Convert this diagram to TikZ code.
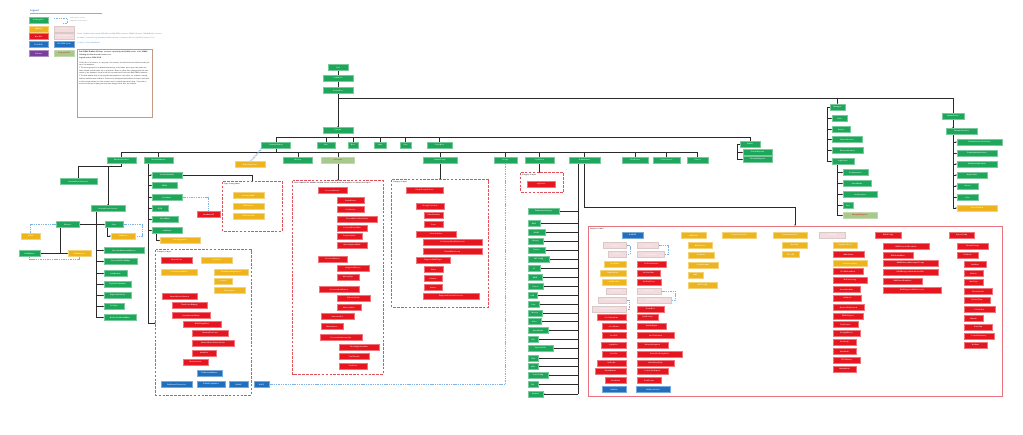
\documentclass[tikz,border=0pt]{standalone}
\usetikzlibrary{arrows.meta}
\definecolor{cg}{HTML}{1EA65A}
\definecolor{cy}{HTML}{EDB41E}
\definecolor{cr}{HTML}{E5161F}
\definecolor{cb}{HTML}{1F6FBE}
\definecolor{cp}{HTML}{7A3E9D}
\definecolor{ck}{HTML}{F2DCDD}
\definecolor{co}{HTML}{A8C98C}
\definecolor{cbox}{HTML}{E2505C}
\definecolor{cdash}{HTML}{7FB2E5}
\definecolor{cln}{HTML}{2A2A2A}
\definecolor{cbrown}{HTML}{C39A85}
\definecolor{ctxt}{HTML}{3B78C4}
\pgfdeclarelayer{bg}
\pgfsetlayers{bg,main}
\tikzset{
 bx/.style={rectangle, minimum height=5.8pt, inner sep=0.2pt, line width=0.3pt, font=\fontsize{1.75}{2}\selectfont\sffamily\bfseries, text=white},
 gn/.style={bx, fill=cg, draw=cg!60!white},
 yl/.style={bx, fill=cy, draw=cy!60!white},
 rd/.style={bx, fill=cr, draw=cr!60!white},
 bl/.style={bx, fill=cb, draw=cb!60!white},
 pu/.style={bx, fill=cp, draw=cp!60!white},
 pk/.style={bx, fill=ck, draw=ck!80!gray},
 ol/.style={bx, fill=co, draw=co!70!white, text=cr},
 dbox/.style={inner sep=0pt},
 dline/.style={draw=cbox, dash pattern=on 2.6pt off 1.3pt, line width=0.8pt},
 conn/.style={draw=cln, line width=0.5pt},
 connT/.style={draw=cln, line width=0.9pt},
 tip/.style={-{Stealth[length=1.4pt,width=1.3pt]}},
 bdash/.style={draw=cdash, line width=0.5pt, dash pattern=on 1.4pt off 0.9pt},
 ttl/.style={font=\fontsize{1.6}{2}\selectfont\sffamily\bfseries, text=black, anchor=north west, inner sep=0.4pt}
}
\newcommand\nd[6]{\node[#2,minimum width=#5pt] (#1) at (#3,#4) {#6};}
\newcommand\dframe[5]{\node[dbox, minimum width=#4pt, minimum height=#5pt] (#1) at (#2,#3) {};
 \draw[dline] (#1.north west) rectangle (#1.south east);}
\begin{document}
\begin{tikzpicture}[x=1pt,y=-1pt]
\useasboundingbox (0,0) rectangle (1023,434);
\begin{pgfonlayer}{bg}
\fill[white] (0,0) rectangle (1023,434);
\end{pgfonlayer}

% ---------------- Legend ----------------
\node[font=\fontsize{2.6}{3}\selectfont\sffamily\bfseries, text=ctxt, anchor=west, inner sep=0] (lgt) at (30,11) {Legend};
\draw[cdash, line width=0.5pt] (30,13.5) -- (102,13.5);
\nd{lg1}{gn}{38.5}{20.5}{19}{Existing API}
\nd{lg2}{yl}{38.5}{29}{19}{Updated}
\nd{lg3}{rd}{38.5}{36.5}{19}{New API}
\nd{lg4}{bl}{38.5}{44.5}{19}{Dell OEM}
\nd{lg5}{pu}{38.5}{53.5}{19}{Deleted}
\draw[bdash] (54,18) -- (67,18) -- (67,23) -- (62,23);
\node[font=\fontsize{1.6}{2.2}\selectfont\sffamily, text=gray, anchor=north west, inner sep=0, align=left] (lgd) at (70,17.5) {Link between related\\ properties (same object)};
\nd{lk2}{pk}{64}{29}{20}{Removed}
\nd{lk3}{pk}{64}{36.5}{20}{Not supported}
\nd{lk4}{bl}{64}{44.5}{20}{Dell OEM (new)}
\nd{lk5}{ol}{64}{53.5}{20}{Proposed API}
\node[font=\fontsize{1.7}{3.8}\selectfont\sffamily, text=ctxt, anchor=north west, inner sep=0, align=left] (lsrc) at (77,33) {Source: Redfish schema bundle DSP8010 and Dell OEM extensions, iDRAC9 firmware 7.00.00.00 API reference,\\ see https://www.dmtf.org/standards/redfish and https://developer.dell.com/apis/2978/versions/7.xx/};
\node[font=\fontsize{1.7}{2}\selectfont\sffamily, text=ctxt, anchor=north west, inner sep=0] (lver) at (77,42.3) {* version 2.1 date 2024-05-02};
\draw[cbrown, line width=0.7pt, fill=white] (77,49) rectangle (152,117);
\node[anchor=north west, text width=71pt, inner sep=0, align=left, font=\fontsize{1.75}{2.6}\selectfont\sffamily] (tbox) at (79,51.5) {\textbf{Dell iDRAC Redfish API map: resources exposed by the Redfish service of the iDRAC, following the links from the service root.}\\[0.8pt]
\textbf{Legend version: 2024-05-02}\\[1.6pt]
* Each box is a resource or a property of a resource; the lines follow the links from the parent to its members.\\[0.4pt]
* The boxes grouped in a dashed frame belong to the same object type; they share the same schema and the same set of properties. Boxes in yellow have changed with the last release of the firmware, boxes in red are new and boxes in blue are Dell OEM extensions.\\[0.4pt]
* The blue dashed lines join properties that depend on each other, for example a setting and the attribute that enables it. Removed or unsupported properties are kept in pale pink so that scripts written for older releases can be checked against this map. Proposed resources are shown in light green and may change before they are released.};

% ---------------- Top spine ----------------
\nd{n1}{gn}{338}{67.5}{20}{Dell}
\nd{n2}{gn}{338}{78.5}{30}{/redfish/v1}
\nd{n3}{gn}{338}{90.5}{30}{ServiceRoot}
\nd{n4}{gn}{338}{130.5}{30}{Systems}

\nd{a1}{gn}{276}{145}{29}{ComputerSystem}
\nd{a2}{gn}{326}{145}{18}{Bios}
\nd{a3}{gn}{353}{145}{10}{Boot}
\nd{a4}{gn}{380}{145}{12}{Links}
\nd{a5}{gn}{405.5}{145}{11}{Oem}
\nd{a6}{gn}{439.5}{145}{25}{SecureBoot}
\nd{a7}{gn}{750}{144}{20}{Chassis}
\nd{a7a}{gn}{757.5}{152.5}{29}{PowerSubsystem}
\nd{a7b}{gn}{757.5}{159.5}{29}{ThermalSubsystem}

\nd{b1}{gn}{121.5}{160}{29}{EthernetInterfaces}
\nd{b2}{gn}{158.5}{160}{29}{NetworkAdapters}
\nd{y0}{yl}{250}{164.5}{30}{NetworkInterfaces}
\nd{b3}{gn}{298}{160}{29}{Memory}
\nd{b4}{ol}{338}{160}{33}{Processors}
\nd{b5}{gn}{440}{160}{34}{SimpleStorage}
\nd{b6}{gn}{505.5}{160}{23}{Storage}
\nd{b7}{gn}{539.5}{160}{29}{LogServices}
\nd{b8}{gn}{584.5}{160}{31}{DellAttributes}
\nd{b9}{gn}{635}{160}{26}{PCIeDevices}
\nd{b10}{gn}{666.5}{160}{27}{PCIeFunctions}
\nd{b11}{gn}{697.5}{160}{21}{Sensors}

% ---------------- Left part ----------------
\nd{c1}{gn}{78.5}{181.5}{37}{NetworkDeviceFunctions}
\nd{c2}{gn}{108}{208.5}{34}{NetworkPortsCollection}
\nd{d1}{gn}{114}{224.5}{18}{Ports}
\nd{d1y}{yl}{123}{236}{24}{LinkStatus}
\nd{d2}{gn}{124}{250.5}{40}{AssociatedNetworkAddresses}
\nd{d3}{gn}{120.5}{261.5}{33}{CurrentLinkSpeedMbps}
\nd{d4}{gn}{115.5}{273.5}{23}{LinkNetwork}
\nd{d5}{gn}{117.5}{284.5}{27}{PhysicalPortNumber}
\nd{d6}{gn}{117.5}{295.5}{27}{SupportedLinkCap}
\nd{d7}{gn}{114}{306.5}{20}{PortType}
\nd{d8}{gn}{120}{317.5}{32}{NetDevFuncMaxBWAlloc}
\nd{e1}{gn}{67.5}{224.5}{23}{Ethernet}
\nd{e2}{gn}{29.5}{253.5}{21}{IPv4Address}
\nd{e3}{yl}{79.5}{253.5}{23}{IPv6Addresses}
\nd{e4}{yl}{30.5}{236}{19}{VLAN}

\nd{f1}{gn}{167}{175}{30}{InterfaceEnabled}
\nd{f2}{gn}{164.5}{185.5}{25}{FQDN}
\nd{f3}{gn}{167}{197.5}{30}{HostName}
\nd{f4}{gn}{160}{208.5}{16}{MTU}
\nd{f5}{gn}{165}{219.5}{26}{SpeedMbps}
\nd{f6}{gn}{167}{230.5}{30}{LinkStatus}
\nd{f6y}{yl}{180}{240.5}{40}{AutoNegotiation}
\nd{h1}{rd}{208.5}{214.5}{23}{HostNameOS}

\dframe{BX1}{252.5}{206.5}{59}{49}
\node[ttl] (BX1t) at ([shift={(1,1)}]BX1.north west) {Type of string values};
\nd{g1}{yl}{248.5}{195.5}{31}{PermanentMAC}
\nd{g2}{yl}{248.5}{206}{31}{MACAddress}
\nd{g3}{yl}{248.5}{216}{31}{UefiDevicePath}

\dframe{BX2}{203.5}{322.5}{95}{145}
\node[ttl] (BX2t) at ([shift={(1,1)}]BX2.north west) {Category of object};
\nd{k1}{rd}{176.5}{260}{31}{NetworkPorts}
\nd{k2}{yl}{216.5}{260}{31}{Controllers}
\nd{k3}{yl}{179}{272}{36}{ControllerCapabilities}
\nd{k4}{yl}{231}{272}{34}{FirmwarePackageVersion}
\nd{k5}{yl}{223}{281}{18}{Location}
\nd{k6}{yl}{229.5}{290.5}{31}{PCIeInterface}
\nd{k7}{rd}{179.5}{296.5}{35}{NetworkDeviceFunction}
\nd{k8}{rd}{189.5}{305.5}{35}{DataCenterBridging}
\nd{k9}{rd}{191}{315.5}{38}{VirtualizationOffload}
\nd{k10}{rd}{202}{324}{38}{NPARCapabilities}
\nd{k11}{rd}{210}{333}{36}{NetworkPortCount}
\nd{k12}{rd}{213}{343}{42}{NetworkDeviceFunctionCount}
\nd{k13}{rd}{204}{353}{24}{Identifiers}
\nd{k14}{rd}{195.5}{362}{25}{Measurements}
\nd{k15}{bl}{209.5}{373}{25}{DellNetworkAdapter}
\nd{k16}{bl}{176.5}{384.5}{31}{DellNetworkTransceiver}
\nd{k17}{bl}{211}{384.5}{28}{DellNICCapabilities}
\nd{k18}{bl}{238.5}{384.5}{19}{DellNIC}
\nd{k19}{bl}{261.5}{384.5}{15}{DellFC}

% ---------------- Box 3 ----------------
\dframe{BX3}{338}{277.5}{90}{193}
\node[ttl] (BX3t) at ([shift={(1,1)}]BX3.north west) {These endpoints are available only with a licence; the list shows the properties of each processor object};
\nd{p1}{rd}{332.5}{190.5}{29}{ProcessorMetrics}
\nd{p2}{rd}{350.5}{200.5}{27}{CacheMetrics}
\nd{p3}{rd}{350.5}{209.5}{27}{CoreMetrics}
\nd{p4}{rd}{357}{219}{40}{CorrectableCoreErrorCount}
\nd{p5}{rd}{352}{228}{30}{ConsumedPowerWatt}
\nd{p6}{rd}{349.5}{236.5}{25}{FrequencyRatio}
\nd{p7}{rd}{352}{245.5}{30}{OperatingSpeedMHz}
\nd{p8}{rd}{332.5}{259.5}{29}{ProcessorMemory}
\nd{p9}{rd}{353}{268.5}{32}{IntegratedMemory}
\nd{p10}{rd}{348}{277}{22}{MemoryType}
\nd{p11}{rd}{339}{289.5}{40}{ProcessorIdentification}
\nd{p12}{rd}{353.5}{298.5}{33}{EffectiveFamily}
\nd{p13}{rd}{349}{307.5}{24}{MicrocodeInfo}
\nd{p14}{rd}{337.5}{316.5}{33}{InstructionSet}
\nd{p15}{rd}{332}{326.5}{22}{Manufacturer}
\nd{p16}{rd}{341}{337.5}{42}{ProcessorArchitectureInfo}
\nd{p17}{rd}{359}{347.5}{40}{ThrottlingCelsiusValue}
\nd{p18}{rd}{354}{356.5}{30}{TotalThreads}
\nd{p19}{rd}{353}{366}{28}{TotalCores}

% ---------------- Box 4 ----------------
\dframe{BX4}{440}{243.5}{96}{127}
\node[ttl] (BX4t) at ([shift={(1,1)}]BX4.north west) {Category of object};
\nd{q1}{rd}{424.5}{190.5}{37}{SimpleStorageDevices}
\nd{q2}{rd}{430}{206.5}{28}{StorageControllers}
\nd{q3}{rd}{433.5}{215.5}{19}{CacheSummary}
\nd{q4}{rd}{433.5}{224.5}{19}{Ports}
\nd{q5}{rd}{436}{234}{40}{ControllerRates}
\nd{q6}{rd}{452.5}{242.5}{59}{ConsistencyCheckRatePercent}
\nd{q7}{rd}{452.5}{251.5}{59}{RebuildRatePercent}
\nd{q8}{rd}{433}{260.5}{34}{SupportedRAIDTypes}
\nd{q9}{rd}{433.5}{269.5}{19}{Drives}
\nd{q10}{rd}{433}{278.5}{18}{Volumes}
\nd{q11}{rd}{433}{287.5}{18}{Status}
\nd{q12}{rd}{451}{296.5}{56}{SupportedControllerProtocols}

% ---------------- Box 5 ----------------
\dframe{BX5}{542}{182.5}{42}{19}
\node[ttl] (BX5t) at ([shift={(1,1)}]BX5.north west) {Category of object};
\nd{s1}{rd}{541}{184.5}{28}{LogEntries}

% ---------------- b8 children ----------------
\nd{m1}{gn}{543.5}{211.5}{31}{DellAttributeRegistry}
\nd{m2}{gn}{534}{223.5}{12}{BIOS}
\nd{m3}{gn}{536.5}{232.5}{17}{iDRAC}
\nd{m4}{gn}{535.5}{241.5}{15}{Lifecycle}
\nd{m5}{gn}{536.5}{250.5}{17}{System}
\nd{m6}{gn}{538.5}{259.5}{21}{NIC Config}
\nd{m7}{gn}{534}{268.5}{12}{FC}
\nd{m8}{gn}{535}{277.5}{14}{RAID}
\nd{m9}{gn}{535.5}{286.5}{15}{Sensors}
\nd{m10}{gn}{532.5}{295.5}{9}{PSU}
\nd{m11}{gn}{533.5}{304.5}{11}{Fans}
\nd{m12}{gn}{535}{313.5}{14}{Memory}
\nd{m13}{gn}{534.5}{321.5}{13}{Video}
\nd{m14}{gn}{538}{330.5}{20}{VirtualMedia}
\nd{m15}{gn}{533}{339.5}{10}{LCD}
\nd{m16}{gn}{540.5}{348.5}{25}{SystemProfile}
\nd{m17}{gn}{533}{358.5}{10}{TPM}
\nd{m18}{gn}{533}{366.5}{10}{USB}
\nd{m19}{gn}{538}{375.5}{20}{PowerConfig}
\nd{m20}{gn}{533}{384.5}{10}{SEL}
\nd{m21}{gn}{535.5}{394}{15}{Network}

% ---------------- Big box ----------------
\draw[draw=cbox!80!white, line width=0.8pt] (588,226) rectangle (1002,396);
\node[inner sep=0, minimum width=414pt, minimum height=170pt] (BB) at (795,311) {};
\node[ttl] (BBt) at (589.5,227.5) {Category of object};
\nd{ca1}{bl}{632.5}{235}{21}{DellBIOS}
\nd{ca2}{pk}{614.5}{245.5}{23}{BootMode}
\nd{ca3}{pk}{617}{254.5}{18}{BootSeq}
\nd{ca4}{yl}{615}{264}{22}{BootOrder}
\nd{ca5}{yl}{613}{273}{26}{HddSeqOrder}
\nd{ca6}{yl}{614}{282}{24}{UefiBootSeq}
\nd{ca7}{pk}{616}{291}{20}{SetBootOrder}
\nd{ca8}{pk}{612}{300}{28}{OneTimeBootMode}
\nd{ca9}{pk}{609}{309}{34}{OneTimeBootSeqDev}
\nd{ca10}{rd}{611.5}{317.5}{29}{ProcTurboMode}
\nd{ca11}{rd}{614}{326.5}{24}{ProcCStates}
\nd{ca12}{rd}{614}{335.5}{24}{ProcC1E}
\nd{ca13}{rd}{613.5}{345}{25}{LogicalProc}
\nd{ca14}{rd}{614}{354}{24}{ProcVirt}
\nd{ca15}{rd}{611.5}{363}{29}{SysProfile}
\nd{ca16}{rd}{610.5}{371.5}{31}{MemOpMode}
\nd{ca17}{rd}{615.5}{380.5}{21}{SriovGlobal}
\nd{ca18}{bl}{614}{389.5}{24}{DellOem}
\nd{cb1}{pk}{647.5}{245.5}{21}{BootOnce}
\nd{cb2}{pk}{650.5}{254.5}{27}{FirstBootDevice}
\nd{cb3}{rd}{651.5}{264}{29}{PxeDev1Interface}
\nd{cb4}{rd}{648.5}{273}{23}{PxeDev1Vlan}
\nd{cb5}{rd}{649}{282}{24}{PxeDev1Proto}
\nd{cb6}{pk}{649}{291}{24}{HttpDev1Uri}
\nd{cb7}{pk}{654}{300}{34}{HttpDev1TlsMode}
\nd{cb8}{rd}{650.5}{309}{27}{SecureBoot}
\nd{cb9}{rd}{647.5}{317.5}{21}{TpmSecurity}
\nd{cb10}{rd}{651.5}{326.5}{29}{TpmPpiBypass}
\nd{cb11}{rd}{655.5}{335.5}{37}{IntelTxtEnabled}
\nd{cb12}{rd}{652.5}{345}{31}{MemoryEncryption}
\nd{cb13}{rd}{659.5}{354}{45}{SecureBootPolicyMode}
\nd{cb14}{rd}{655.5}{363}{37}{AcPwrRcvryDelay}
\nd{cb15}{rd}{652.5}{371.5}{31}{PowerCycleRequest}
\nd{cb16}{rd}{649}{380.5}{24}{SerialComm}
\nd{cb17}{bl}{653}{389.5}{34}{DellBootSources}
\nd{cc1}{yl}{693.5}{235.5}{25}{iDRACNIC}
\nd{cc2}{yl}{700}{245.5}{24}{NICSelection}
\nd{cc3}{yl}{701}{255}{26}{IPv4Static}
\nd{cc4}{yl}{703}{265}{30}{IPv6StaticAddr}
\nd{cc5}{yl}{695.5}{275}{15}{DNS}
\nd{cc6}{yl}{702.5}{285}{29}{NTPConfig}
\nd{cd1}{yl}{739}{235.5}{34}{LifecycleController}
\nd{ce1}{yl}{790}{235.5}{34}{SystemInformation}
\nd{ce2}{yl}{794.5}{245.5}{25}{AssetTag}
\nd{ce3}{yl}{790.5}{254.5}{17}{ServerOS}
\nd{cf1}{pk}{832}{235.5}{26}{NICConfig}
\nd{cf2}{yl}{845}{245.5}{24}{LegacyBootProto}
\nd{cf3}{rd}{848.5}{254.5}{31}{WakeOnLan}
\nd{cf4}{yl}{850}{263.5}{34}{IscsiInitiatorName}
\nd{cf5}{rd}{848}{271.5}{30}{FCoEOffloadMode}
\nd{cf6}{rd}{850}{280.5}{34}{NicPartitioning}
\nd{cf7}{rd}{846.5}{289.5}{27}{VirtualMacAddr}
\nd{cf8}{rd}{847}{298.5}{28}{LnkSpeed}
\nd{cf9}{rd}{848.5}{307.5}{31}{NumberVFAdvertised}
\nd{cf10}{rd}{848}{316.5}{30}{SRIOVSupport}
\nd{cf11}{rd}{845.5}{324.5}{25}{FlowControl}
\nd{cf12}{rd}{846.5}{333.5}{27}{EnergyEfficient}
\nd{cf13}{rd}{844.5}{342.5}{23}{BootStrap}
\nd{cf14}{rd}{844.5}{351.5}{23}{VLanMode}
\nd{cf15}{rd}{846.5}{360.5}{27}{TCPChimney}
\nd{cf16}{rd}{844.5}{369.5}{23}{HairpinMode}
\nd{cg1}{rd}{888}{235.5}{26}{RAIDConfig}
\nd{cg2}{rd}{906}{246.5}{46}{RAIDControllerBootMode}
\nd{cg3}{rd}{898}{255.5}{30}{RAIDrebuildRate}
\nd{cg4}{rd}{910.5}{263}{55}{RAIDEnhancedAutoImportForeign}
\nd{cg5}{rd}{910.5}{272}{55}{RAIDBackgroundInitializationRate}
\nd{cg6}{rd}{902.5}{281}{39}{RAIDPatrolReadMode}
\nd{cg7}{rd}{912}{290}{58}{RAIDSupportedDiskProtocols}
\nd{ch1}{rd}{961.5}{235.5}{25}{SystemConfig}
\nd{ch2}{rd}{972.5}{246.5}{31}{ThermalSettings}
\nd{ch3}{rd}{967.5}{255.5}{21}{FanSpeed}
\nd{ch4}{rd}{975}{264.5}{22}{FanOffset}
\nd{ch5}{rd}{973.5}{273.5}{19}{MinFan}
\nd{ch6}{rd}{973.5}{282.5}{19}{MaxTemp}
\nd{ch7}{rd}{978}{291.5}{28}{ThermalProfile}
\nd{ch8}{rd}{977}{300.5}{26}{ExhaustTemp}
\nd{ch9}{rd}{979.5}{309.5}{31}{PCIeAirflow}
\nd{ch10}{rd}{973.5}{318.5}{19}{Altitude}
\nd{ch11}{rd}{978}{327}{28}{PowerCap}
\nd{ch12}{rd}{979}{336}{30}{PowerRedundancy}
\nd{ch13}{rd}{975.5}{345}{23}{HotSpare}

% ---------------- Right clusters ----------------
\nd{r1}{gn}{837.5}{107}{15}{Managers}
\nd{r1a}{gn}{839.5}{118.5}{15}{Links}
\nd{r1b}{gn}{841}{129.5}{18}{Actions}
\nd{r1c}{gn}{847}{139.5}{30}{NetworkProtocol}
\nd{r1d}{gn}{847.5}{150.5}{31}{EthernetInterfaces}
\nd{r1e}{gn}{843}{161.5}{22}{LogServices}
\nd{r1e1}{gn}{855.5}{172.5}{25}{SerialInterfaces}
\nd{r1e2}{gn}{857}{183.5}{28}{VirtualMedia}
\nd{r1e3}{gn}{860}{194.5}{34}{HostInterfaces}
\nd{r1e4}{gn}{848}{205.5}{10}{Oem}
\nd{r1e5}{ol}{860}{215.5}{34}{ManagerDiagnostic}
\nd{r2}{gn}{953}{116}{22}{UpdateService}
\nd{r2b}{gn}{961.5}{131.5}{31}{FirmwareInventory}
\nd{r2c1}{gn}{979.5}{142}{45}{SoftwareInventoryCollection}
\nd{r2c2}{gn}{977}{153.5}{40}{SimpleUpdateActionInfo}
\nd{r2c3}{gn}{977}{164}{40}{MultipartHttpPushUri}
\nd{r2c4}{gn}{972}{175}{30}{HttpPushUri}
\nd{r2c5}{gn}{967.5}{186}{21}{Actions}
\nd{r2c6}{gn}{967.5}{197.5}{21}{Oem}
\nd{r2c7}{yl}{977}{208}{40}{ServiceEnabled}

% ---------------- Connectors ----------------
\begin{pgfonlayer}{bg}
\draw[conn] (n1) -- (n2);
\draw[conn] (n2) -- (n3);
\draw[conn,tip] (n3) -- (n4);
\draw[connT] (n3.south |- 0,98) -| (r2.north);
\draw[connT,tip] (r1.north |- 0,98) -- (r1.north);
% bus 137
\draw[connT] (n4.south) -- (n4.south |- 0,137);
\foreach \c in {a1,a2,a3,a4,a5,a6,a7} \draw[conn] (n4.south |- 0,137) -| (\c.north);
\draw[conn] (a7.west) -- ++(-3,0) coordinate (t5);
\draw[conn,tip] (t5) |- (a7a.west);
\draw[conn,tip] (t5) |- (a7b.west);
% bus 152
\draw[connT] (a1.south) -- (a1.south |- 0,152);
\foreach \c in {b1,b2,b3,b4,b5,b6,b7,b8,b9,b10,b11} \draw[connT] (a1.south |- 0,152) -| (\c.north);
\draw[bdash] (y0.north) -- (a1.south west);
\draw[bdash] ([xshift=1.2pt]y0.north) -- ([xshift=1.2pt]a1.south west);
% b1
\draw[conn,tip] (b1.south) -- (b1.south |- 0,166) -| (c1.north);
\draw[conn,tip] (b1.south |- 0,166) -| (c2.north);
\coordinate (t2) at (c2.south -| 96,0);
\draw[conn] (t2) -- (t2 |- d8.west);
\foreach \c in {d1,d2,d3,d4,d5,d6,d7,d8} \draw[conn,tip] (t2 |- \c.west) -- (\c.west);
\draw[conn,tip] (t2 |- e1.east) -- (e1.east);
\draw[conn,tip] (d1.south west) ++(2,0) |- (d1y.west);
\draw[bdash] (d1.east) -- ++(19,0) |- (d1y.east);
\coordinate (j1) at (e1.south -| 60,0);
\draw[conn] (j1) -- (j1 |- e2.east);
\draw[conn,tip] (j1 |- e2.east) -- (e2.east);
\draw[conn,tip] (j1 |- e3.west) -- (e3.west);
\draw[bdash] (e1.west) -| (e4.north);
\draw[bdash] (e2.south) -- ++(0,3) -| (e3.south);
% b2
\coordinate (t3) at (b2.south -| 148,0);
\draw[connT] (t3) -- (t3 |- 0,323);
\foreach \c in {f1,f2,f3,f4,f5,f6} \draw[conn,tip] (t3 |- \c.west) -- (\c.west);
\draw[conn,tip] (t3 |- 0,323) -- (BX2.west |- 0,323);
\draw[conn,tip] (f1.east) -| (BX1.north);
\draw[bdash] (f3.east) -| (h1.north);
\draw[conn,tip] (f6.south west) ++(4,0) |- (f6y.west);
% boxes
\draw[conn,tip] (b4.south) -- (BX3.north);
\draw[conn,tip] (b5.south) -- (BX4.north);
\draw[conn,tip] (b7.south) -- (b7.south |- BX5.north);
\draw[bdash] (k19.east) -| (b6.south);
% b8
\coordinate (t4) at (b8.south -| 578,0);
\draw[connT] (t4) -- (t4 |- m21.east);
\foreach \c in {m1,m2,m3,m4,m5,m6,m7,m8,m9,m10,m11,m12,m13,m14,m15,m16,m17,m18,m19,m20,m21} \draw[conn,tip] (t4 |- \c.east) -- (\c.east);
\draw[conn,tip] (b8.south) -- (b8.south |- 0,207) -| (BB.north);
% brackets in big box
\draw[bdash] (ca2.east) -- ++(4,0) |- (ca3.east);
\draw[bdash] (ca8.east) -- ++(3,0) |- (ca9.east);
\draw[bdash] (cb1.east) -- ++(10,0) |- (cb2.east);
\draw[bdash] (cb6.east) -- ++(14,0) |- (cb7.east);
% right cluster 1
\draw[conn] (r1.west) -- ++(-3,0) coordinate (t6);
\draw[conn] (t6) -- (t6 |- r1e.west);
\foreach \c in {r1a,r1b,r1c,r1d,r1e} \draw[conn,tip] (t6 |- \c.west) -- (\c.west);
\coordinate (t7) at (r1e.south -| 837,0);
\draw[conn] (t7) -- (t7 |- r1e5.west);
\foreach \c in {r1e1,r1e2,r1e3,r1e4,r1e5} \draw[conn,tip] (t7 |- \c.west) -- (\c.west);
% right cluster 2
\draw[conn,tip] (r2.south) -- (r2.south |- r2b.north);
\coordinate (t8) at (r2b.south -| 953,0);
\draw[conn] (t8) -- (t8 |- r2c7.west);
\foreach \c in {r2c1,r2c2,r2c3,r2c4,r2c5,r2c6,r2c7} \draw[conn,tip] (t8 |- \c.west) -- (\c.west);
\end{pgfonlayer}
\end{tikzpicture}
\end{document}
